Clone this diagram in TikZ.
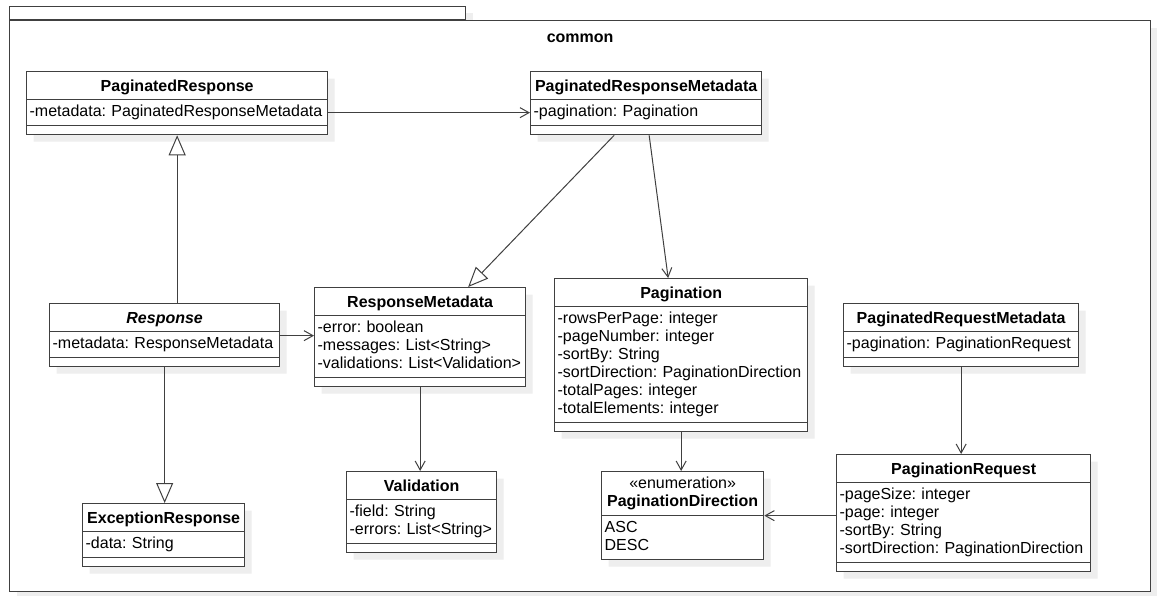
\documentclass[tikz,border=0pt]{standalone}
\usepackage{fontspec}
\setmainfont{Liberation Sans}
\usepackage{xcolor}
\definecolor{uml-line}{RGB}{64,64,64}
\definecolor{uml-shadow}{RGB}{238,238,238}
\usepackage{tikz}
\usetikzlibrary{shapes.multipart,shadows,arrows.meta}

\begin{document}
\frenchspacing
\fontsize{16}{18}\selectfont
\begin{tikzpicture}[
    x=1pt, y=-1pt,
    every node/.style={font=\fontsize{16}{18}\selectfont\frenchspacing},
    umlclass/.style={
        rectangle split,
        rectangle split parts=3,
        draw=uml-line,
        line width=1.3pt,
        fill=white,
        inner xsep=3pt,
        inner ysep=3.35pt,
        align=left,
        anchor=north west,
        drop shadow={shadow xshift=7pt, shadow yshift=-7pt, fill=uml-shadow, opacity=1}
    },
    umlenum/.style={umlclass, rectangle split parts=2},
    pkg/.style={
        draw=uml-line,
        line width=1.3pt,
        fill=white,
        inner sep=0pt,
        drop shadow={shadow xshift=7pt, shadow yshift=-7pt, fill=uml-shadow, opacity=1}
    },
    assoc/.style={draw=uml-line, line width=1pt, -{Straight Barb[length=9pt,width=10pt]}},
    gen/.style={draw=uml-line, line width=1pt, -{Triangle[length=20pt,width=17pt,fill=white]}}
]

\path[use as bounding box, fill=white] (0,0) rectangle (1157,596);

% Package frame
\node[pkg, minimum width=456pt, minimum height=13pt, anchor=south west] (commontab) at (9,20) {};
\node[pkg, minimum width=1141pt, minimum height=571pt, anchor=north west] (common) at (commontab.south west) {};
\node[font=\fontsize{16}{18}\selectfont\bfseries] (commonname) at ([yshift=-18pt]common.north) {common};

% Response classes
\node[umlclass, text width=295pt] (presp) at (26,71) {
    {\centering\bfseries PaginatedResponse\rule[-4.5pt]{0pt}{20pt}\par}
    \nodepart{two}\strut-metadata: PaginatedResponseMetadata\strut
    \nodepart{three}\rule{0pt}{1pt}
};
\node[umlclass, text width=224pt] (resp) at (49,303) {
    {\centering\bfseries\itshape Response\rule[-4.5pt]{0pt}{20pt}\par}
    \nodepart{two}\strut-metadata: ResponseMetadata\strut
    \nodepart{three}\rule{0pt}{1pt}
};
\node[umlclass, text width=156pt] (exc) at (82,503) {
    {\centering\bfseries ExceptionResponse\rule[-4.5pt]{0pt}{20pt}\par}
    \nodepart{two}\strut-data: String\strut
    \nodepart{three}\rule{0pt}{1pt}
};

% Metadata classes
\node[umlclass, text width=225pt] (prmeta) at (530,71) {
    {\centering\bfseries PaginatedResponseMetadata\rule[-4.5pt]{0pt}{20pt}\par}
    \nodepart{two}\strut-pagination: Pagination\strut
    \nodepart{three}\rule{0pt}{1pt}
};
\node[umlclass, text width=205pt] (rmeta) at (314,287) {
    {\centering\bfseries ResponseMetadata\rule[-4.5pt]{0pt}{20pt}\par}
    \nodepart{two}\strut-error: boolean\\
    \strut-messages: List<String>\\
    \strut-validations: List<Validation>\strut
    \nodepart{three}\rule{0pt}{1pt}
};
\node[umlclass, text width=144pt] (valid) at (346,471) {
    {\centering\bfseries Validation\rule[-4.5pt]{0pt}{20pt}\par}
    \nodepart{two}\strut-field: String\\
    \strut-errors: List<String>\strut
    \nodepart{three}\rule{0pt}{1pt}
};

% Pagination classes
\node[umlclass, text width=247pt] (pag) at (554,278) {
    {\centering\bfseries Pagination\rule[-4.5pt]{0pt}{20pt}\par}
    \nodepart{two}\strut-rowsPerPage: integer\\
    \strut-pageNumber: integer\\
    \strut-sortBy: String\\
    \strut-sortDirection: PaginationDirection\\
    \strut-totalPages: integer\\
    \strut-totalElements: integer\strut
    \nodepart{three}\rule{0pt}{1pt}
};
\node[umlenum, text width=156pt] (pdir) at (601,471) {
    {\centering «enumeration»\strut\\
    \textbf{PaginationDirection}\strut\par}
    \nodepart{two}\strut ASC\\
    \strut DESC\strut
};
\node[umlclass, text width=229pt] (preqmeta) at (843,303) {
    {\centering\bfseries PaginatedRequestMetadata\rule[-4.5pt]{0pt}{20pt}\par}
    \nodepart{two}\strut-pagination: PaginationRequest\strut
    \nodepart{three}\rule{0pt}{1pt}
};
\node[umlclass, text width=248pt] (preq) at (836,454) {
    {\centering\bfseries PaginationRequest\rule[-4.5pt]{0pt}{20pt}\par}
    \nodepart{two}\strut-pageSize: integer\\
    \strut-page: integer\\
    \strut-sortBy: String\\
    \strut-sortDirection: PaginationDirection\strut
    \nodepart{three}\rule{0pt}{1pt}
};

% Associations
\draw[assoc] ([yshift=-13pt]presp.text split east) -- ([yshift=-13pt]prmeta.text split west);
\draw[assoc] ([yshift=-4pt]resp.text split east) -- ([yshift=-4pt]resp.text split east -| rmeta.west);
\draw[assoc] ([xshift=3pt]prmeta.south) -- ([xshift=-13pt]pag.north);
\draw[assoc] (rmeta.south) -- (rmeta.south |- valid.north);
\draw[assoc] (pag.south) -- (pag.south |- pdir.north);
\draw[assoc] (preqmeta.south) -- (preqmeta.south |- preq.north);
\draw[assoc] (preq.west |- pdir.text split east) -- (pdir.text split east);

% Generalizations
\draw[gen] (resp.north -| presp.south) -- (presp.south);
\draw[gen] (resp.south) -- (resp.south |- exc.north);
\draw[gen] ([xshift=-32pt]prmeta.south) -- ([xshift=48pt]rmeta.north);

\end{tikzpicture}
\end{document}
